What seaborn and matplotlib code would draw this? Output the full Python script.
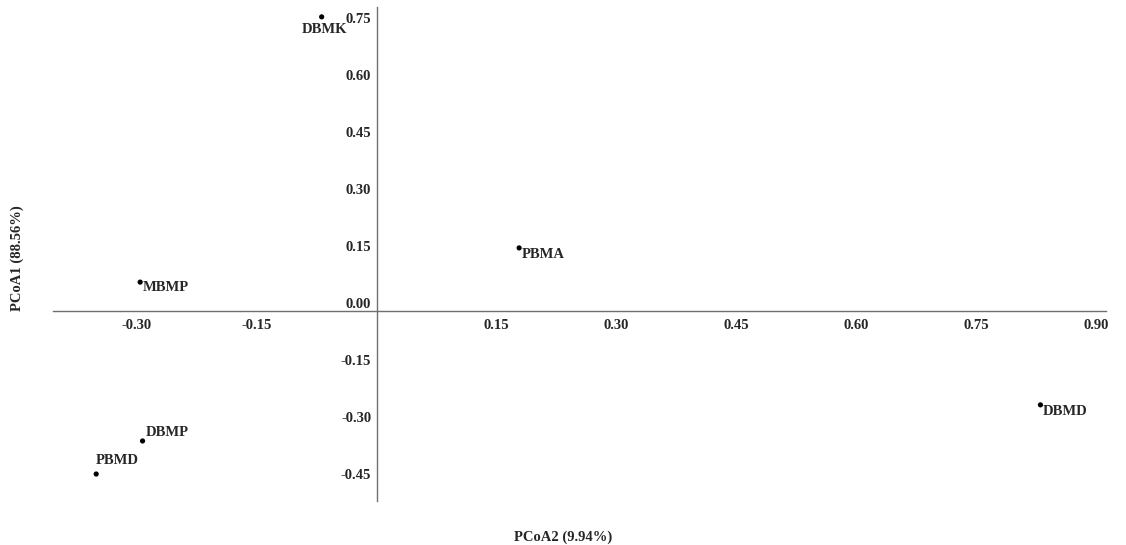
import pandas as pd
import seaborn as sns
import matplotlib.pyplot as plt

# sample coordinates
samples = ['DBMK', 'PBMA', 'MBMP', 'DBMP', 'PBMD', 'DBMD']
pcoa2 = [-0.069, 0.178, -0.296, -0.293, -0.351, 0.830]
pcoa1 = [0.774, 0.166, 0.076, -0.342, -0.429, -0.247]
xticks = [-0.30, -0.15, 0.15, 0.30, 0.45, 0.60, 0.75, 0.90]
yticks = [-0.45, -0.30, -0.15, 0.00, 0.15, 0.30, 0.45, 0.60, 0.75]

df = pd.DataFrame({'sample': samples, 'PCoA2': pcoa2, 'PCoA1': pcoa1})

sns.set_style('white')
plt.rcParams['font.family'] = ['Liberation Serif', 'DejaVu Serif']
plt.rcParams['font.weight'] = 'bold'

fig = plt.figure(figsize=(11.26, 5.45), dpi=100)
ax = fig.add_axes([53 / 1126, 44 / 545, 1053 / 1126, 494 / 545])

sns.scatterplot(data=df, x='PCoA2', y='PCoA1', color='black', s=14,
                edgecolor='none', ax=ax)

# label placement (offsets in points)
offsets = {'DBMK': (-14, -9), 'PBMA': (2, -5), 'MBMP': (2, -4),
           'DBMP': (2, 6), 'PBMD': (0, 10), 'DBMD': (2, -5)}
for name, x, y in zip(samples, pcoa2, pcoa1):
    ax.annotate(name, (x, y), xytext=offsets[name], textcoords='offset points',
                fontsize=10.5, fontweight='bold', ha='left', va='center')

ax.set_xlim(-0.405, 0.912)
ax.set_ylim(-0.50, 0.80)

for side in ['top', 'right']:
    ax.spines[side].set_visible(False)
ax.spines['left'].set_position(('data', 0))
ax.spines['bottom'].set_position(('data', 0))
for side in ['left', 'bottom']:
    ax.spines[side].set_color('#707070')
    ax.spines[side].set_linewidth(1.0)

ax.set_xticks(xticks)
ax.set_xticklabels([f'{t:.2f}' for t in xticks], fontsize=10.5, fontweight='bold')
ax.set_yticks(yticks)
ax.set_yticklabels([f'{t:.2f}' for t in yticks], fontsize=10.5, fontweight='bold',
                   va='bottom')
ax.tick_params(axis='x', direction='out', length=3, width=1, color='#707070', pad=3)
ax.tick_params(axis='y', length=0, pad=4)

ax.set_xlabel('')
ax.set_ylabel('')
fig.text(563 / 1126, 1 - 537 / 545, 'PCoA2 (9.94%)', ha='center', va='center',
         fontsize=10.5, fontweight='bold')
fig.text(17 / 1126, 1 - 258 / 545, 'PCoA1 (88.56%)', ha='center', va='center',
         rotation=90, fontsize=10.5, fontweight='bold')

fig.savefig('out.png', dpi=100)
